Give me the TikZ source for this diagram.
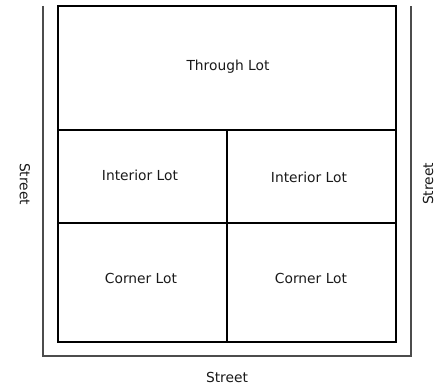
\documentclass[tikz,border=0pt]{standalone}
\usepackage{fontspec}
\setmainfont{DejaVu Sans}
\tikzset{
  lotline/.style={line width=1.9pt,black},
  streetline/.style={line width=1.2pt,black!70},
  lbl/.style={font=\fontsize{13.8}{16}\selectfont,text=black!90,inner sep=0pt}
}

\begin{document}
\begin{tikzpicture}[x=1pt,y=-1pt]
\useasboundingbox (0,0) rectangle (443,385);
% street edge
\draw[streetline] (43,6) -- (43,356) -- (411,356) -- (411,6);
% block and lots
\draw[lotline] (58,6) rectangle (396,342);
\foreach \y in {130,223} { \draw[lotline] (58,\y) -- (396,\y); }
\draw[lotline] (227,130) -- (227,342);
% labels
\node[lbl,anchor=base] (through) at (228,70.5) {Through Lot};
\node[lbl,anchor=base] (interiorL) at (140,180.5) {Interior Lot};
\node[lbl,anchor=base] (interiorR) at (309,182.5) {Interior Lot};
\node[lbl,anchor=base] (cornerL) at (141,283.5) {Corner Lot};
\node[lbl,anchor=base] (cornerR) at (311,283.5) {Corner Lot};
\node[lbl,anchor=base] (streetB) at (227,382.5) {Street};
\node[lbl,rotate=-90] (streetL) at (25,184) {Street};
\node[lbl,rotate=90] (streetR) at (428,184) {Street};
\end{tikzpicture}
\end{document}
